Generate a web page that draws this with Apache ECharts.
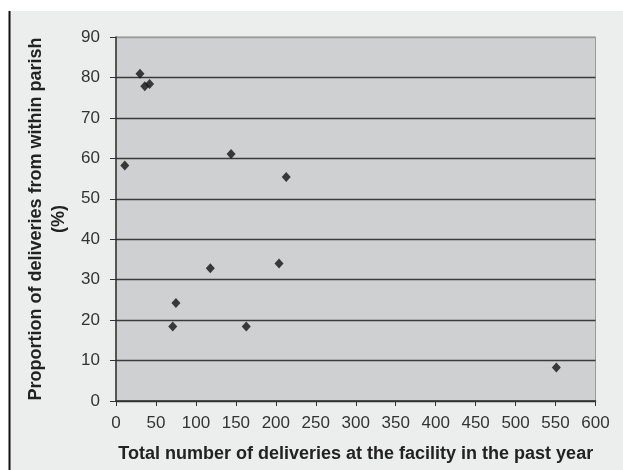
<!DOCTYPE html>
<html><head><meta charset="utf-8">
<script src="https://cdn.jsdelivr.net/npm/echarts@6/dist/echarts.min.js"></script>
<style>html,body{margin:0;padding:0;background:#fff}#c{width:623px;height:470px}</style>
</head><body><div id="c"></div>
<script>
const deliveries = [11, 30, 36, 42, 144, 213, 71, 75, 118, 163, 204, 551];
const proportion = [58.2, 80.9, 77.8, 78.4, 61.1, 55.4, 18.4, 24.2, 32.8, 18.4, 34.0, 8.3];
const xTitle = 'Total number of deliveries at the facility in the past year';
const yTitle = 'Proportion of deliveries from within parish\n(%)';

const points = deliveries.map((d, i) => [d, proportion[i]]);
const chart = echarts.init(document.getElementById('c'), null, {renderer: 'canvas'});
const font = '"Liberation Sans", Arial, sans-serif';
chart.setOption({
  animation: false,
  graphic: [
    {type: 'rect', z: -10, shape: {x: 10, y: 11, width: 613, height: 459}, style: {fill: '#eceeed'}},
    {type: 'line', z: -9, shape: {x1: 9.5, y1: 11, x2: 9.5, y2: 470}, style: {stroke: '#111', lineWidth: 2}}
  ],
  grid: {left: 116, right: 27.5, top: 37, bottom: 69, containLabel: false, outerBoundsMode: 'none',
         show: true, backgroundColor: '#cfd0d2', borderColor: '#9a9a9a', borderWidth: 1},
  xAxis: {
    type: 'value', min: 0, max: 600, interval: 50,
    name: xTitle, nameLocation: 'middle', nameGap: 44,
    nameTextStyle: {fontFamily: font, fontSize: 18, fontWeight: 'bold', color: '#222'},
    axisLine: {show: true, lineStyle: {color: '#333', width: 1.5}},
    axisTick: {show: true, inside: false, length: 5, lineStyle: {color: '#333'}},
    axisLabel: {fontFamily: font, fontSize: 17, color: '#333', margin: 14},
    splitLine: {show: false}
  },
  yAxis: {
    type: 'value', min: 0, max: 90, interval: 10,
    name: yTitle, nameLocation: 'middle', nameGap: 43,
    nameTextStyle: {fontFamily: font, fontSize: 18, fontWeight: 'bold', color: '#222', lineHeight: 23, align: 'center'},
    axisLine: {show: true, lineStyle: {color: '#333', width: 1.5}},
    axisTick: {show: true, inside: false, length: 6, lineStyle: {color: '#333'}},
    axisLabel: {fontFamily: font, fontSize: 17, color: '#333', margin: 16},
    splitLine: {show: true, lineStyle: {color: ['#333','#3a3a3a','#3a3a3a','#3a3a3a','#3a3a3a','#3a3a3a','#3a3a3a','#3a3a3a','#3a3a3a','#9a9a9a'], width: 1.3}}
  },
  series: [{
    type: 'scatter', data: points, symbol: 'diamond', symbolSize: [9, 10],
    itemStyle: {color: '#111'}
  }]
});
</script></body></html>
